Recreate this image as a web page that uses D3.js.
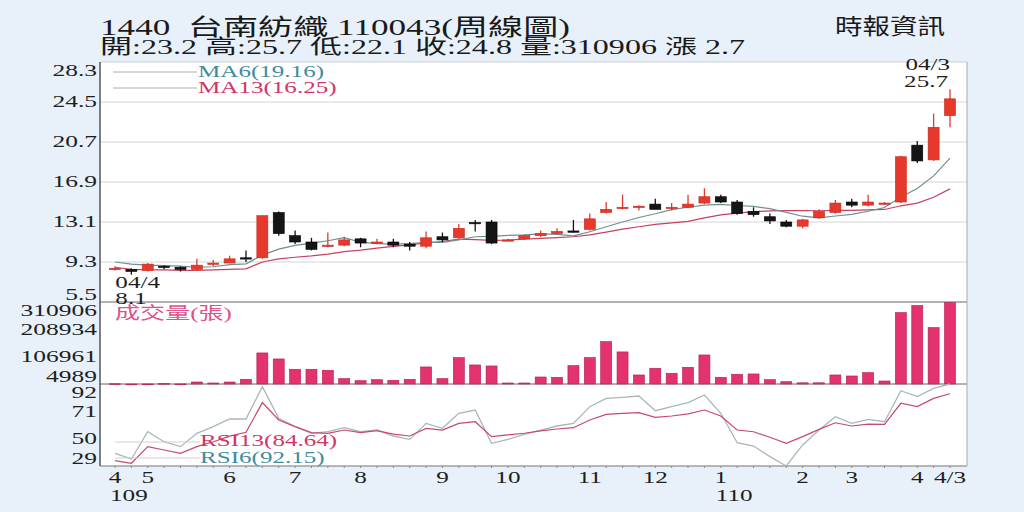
<!DOCTYPE html>
<html><head><meta charset="utf-8">
<script src="https://cdn.jsdelivr.net/npm/d3@7"></script>
<style>
body{margin:0;background:#e8f1f9;}
svg{display:block;}
text{font-family:"Liberation Serif","Noto Sans CJK TC",serif;}
</style>
</head><body>
<svg id="c" width="1024" height="512"></svg>
<script>
// ---- data ----
const openP  = [8.6,8.6,8.5,8.9,8.8,8.6,9.1,9.2,9.7,9.7,14.0,11.8,11.2,10.8,10.9,11.5,11.1,11.2,11.0,10.8,11.7,11.6,13.05,13.1,11.3,11.5,11.8,12.0,12.25,12.4,14.0,14.4,14.6,14.8,14.4,14.5,14.9,15.5,15.0,14.1,13.6,13.1,12.7,13.5,14.0,15.0,14.7,14.8,15.0,20.4,19.0,23.2];
const closeP = [8.7,8.4,9.1,8.8,8.6,9.0,9.2,9.6,9.6,13.7,12.0,11.2,10.5,10.9,11.4,11.1,11.2,10.9,10.8,11.6,11.4,12.5,13.0,11.1,11.4,11.8,12.0,12.2,12.2,13.4,14.3,14.5,14.6,14.3,14.5,14.8,15.5,15.0,13.9,13.8,13.2,12.7,13.3,14.1,14.9,14.7,15.0,14.9,19.3,18.9,22.1,24.8];
const highP  = [8.9,8.7,9.2,9.0,8.9,9.6,9.5,9.9,10.4,13.7,14.1,12.3,11.6,12.1,11.7,11.6,11.5,11.5,11.2,12.2,12.1,12.9,13.3,13.3,11.5,11.9,12.3,12.5,13.3,13.9,15.0,15.7,14.7,15.3,14.9,15.7,16.3,15.7,15.2,14.5,13.9,13.3,13.4,14.3,15.2,15.3,15.7,15.0,19.4,20.8,23.4,25.7];
const lowP   = [8.5,8.1,8.4,8.6,8.4,8.5,8.9,9.2,9.3,9.6,11.8,11.0,10.4,10.7,10.8,10.7,11.0,10.7,10.4,10.6,11.2,11.5,12.2,11.0,11.3,11.4,11.7,11.9,12.1,12.3,13.9,14.3,14.2,14.3,14.2,14.4,14.8,14.9,13.8,13.6,12.9,12.6,12.5,13.4,13.9,14.5,14.6,14.8,14.9,18.7,18.9,22.1];
const ma6    = [9.3,9.1,9.0,8.95,8.9,8.8,8.85,9.05,9.13,9.95,10.52,10.88,11.1,11.32,11.62,11.18,11.05,11.0,11.05,11.17,11.17,11.4,11.7,11.73,11.83,11.87,11.97,11.92,11.78,12.17,12.65,13.1,13.53,13.88,14.27,14.5,14.7,14.78,14.67,14.58,14.37,14.02,13.65,13.5,13.67,13.82,14.12,14.48,15.48,16.28,17.48,19.16];
const ma13   = [8.8,8.6,8.55,8.55,8.5,8.5,8.55,8.6,8.65,9.3,9.6,9.75,9.88,10.05,10.28,10.43,10.62,10.79,10.93,11.12,11.25,11.48,11.42,11.35,11.37,11.47,11.55,11.62,11.7,11.87,12.13,12.42,12.65,12.87,13.02,13.16,13.5,13.78,13.94,14.08,14.15,14.19,14.18,14.17,14.2,14.21,14.26,14.29,14.64,14.9,15.45,16.25];
const volume = [6000,4989,5200,7000,5300,12500,8800,12500,22700,121600,99000,60300,60300,56500,25000,17400,21200,18900,22700,69000,25000,104000,76500,72700,8800,8800,31300,30000,73800,104000,164000,125400,38900,64000,45200,67800,114000,30200,41500,42700,21200,13600,9500,9500,38900,35100,47500,16300,273000,299600,216800,310906];
const rsi6   = [38.8,34.4,55.4,47.7,43.9,54.2,59.3,65.2,65.2,90.1,65.7,59.3,54.2,55.4,58.5,55.4,56.7,52.1,49.5,61.8,58.0,69.6,72.1,46.5,49.5,53.4,56.7,59.8,61.8,74.7,81.1,81.9,82.9,71.6,74.7,77.8,83.7,69.6,46.9,44.4,36.2,29.0,45.2,56.7,67.0,61.8,64.9,63.1,87.0,82.4,88.8,92.15];
const rsi13  = [33.1,31.1,43.9,41.3,38.8,43.9,47.7,52,55,77.8,64.4,59.3,54.7,54.2,56.7,54.7,56.2,53.6,52.1,58.0,56.7,61.8,63.1,51.6,52.9,54.2,56.0,57.5,58.5,64.4,68.8,69.6,70.1,66.5,67.5,69.1,72.1,67.5,56.7,55.4,51.1,46.5,51.6,57.2,62.3,59.8,61.3,61.0,77.3,74.7,81.1,84.64];
const priceTicks = [5.5,9.3,13.1,16.9,20.7,24.5,28.3];
const volTicks   = [4989,106961,208934,310906];
const rsiTicks   = [29,50,71,92];
const monthTickIdx = [0,2,7,11,15,20,24,29,33,37,42,45,49,51];
const monthTickLbl = ["4","5","6","7","8","9","10","11","12","1","2","3","4","4/3"];
const yearIdx = [0,37];
const yearLbl = ["109","110"];
const titleText = "1440\u00a0\u00a0台南紡織 110043(周線圖)";
const infoText = "開:23.2 高:25.7 低:22.1 收:24.8 量:310906 漲 2.7";
const sourceText = "時報資訊";

// ---- layout ----
const L = 100, R = 967;
const pTop = 62, pBot = 302, vTop = 302, vBot = 384, rTop = 384, rBot = 466;
const SX = 1.5;
const svg = d3.select("#c");
const n = closeP.length;
const x = d3.scaleLinear().domain([0, n-1]).range([115, 950]);
const yP = d3.scaleLinear().domain([5.5, 28.3]).range([pBot, pTop]);
const yV = d3.scaleLinear().domain([4989, 310906]).range([vBot, vTop + 0.5]);
const yR = d3.scaleLinear().domain([29, 92.15]).range([rBot, rTop]);
const idx = d3.range(n);

function txt(parent, px, py, s, o) {
  o = o || {};
  return parent.append("text")
    .attr("transform", `translate(${px},${py}) scale(${o.sx || SX},1)`)
    .attr("text-anchor", o.anchor || "start")
    .attr("dominant-baseline", "central")
    .attr("font-size", o.size || 17)
    .attr("fill", o.fill || "#1e1e1e")
    .text(s);
}

// plot background
svg.append("rect").attr("x", L).attr("y", pTop).attr("width", R-L).attr("height", rBot-pTop).attr("fill", "#fff");

// grid & frame
svg.append("g").selectAll("line").data(priceTicks.slice(1,-1)).join("line")
  .attr("x1", L).attr("x2", R).attr("y1", d=>yP(d)).attr("y2", d=>yP(d))
  .attr("stroke", "#d6d6d6").attr("stroke-width", 1.2);
svg.append("line").attr("x1", L).attr("x2", R).attr("y1", pTop).attr("y2", pTop).attr("stroke", "#cfcfcf");
svg.append("line").attr("x1", L).attr("x2", R).attr("y1", pBot).attr("y2", pBot).attr("stroke", "#666").attr("stroke-width", 1.2);
svg.append("line").attr("x1", L).attr("x2", R).attr("y1", vBot).attr("y2", vBot).attr("stroke", "#666").attr("stroke-width", 1.2);
svg.append("line").attr("x1", L).attr("x2", R).attr("y1", rBot).attr("y2", rBot).attr("stroke", "#777").attr("stroke-width", 1.2);
svg.append("line").attr("x1", R).attr("x2", R).attr("y1", pTop).attr("y2", rBot).attr("stroke", "#aaa");
svg.append("line").attr("x1", L).attr("x2", L).attr("y1", pTop).attr("y2", rBot).attr("stroke", "#555").attr("stroke-width", 1.5);

// axis labels
function axisLabels(ticks, scale, top, bot, fmt) {
  const g = svg.append("g");
  ticks.forEach(d => txt(g, L-3, Math.max(top+9, Math.min(bot-7.5, scale(d))), fmt(d), {anchor:"end", size:17}));
}
axisLabels(priceTicks, yP, pTop, pBot, d => d.toFixed(1));
axisLabels(volTicks, yV, vTop, vBot, d => String(d));
axisLabels(rsiTicks, yR, rTop, rBot, d => String(d));

// MA lines
const line = (arr, sc) => d3.line().x((d,i)=>x(i)).y(d=>sc(d))(arr);
svg.append("path").attr("d", line(ma13, yP)).attr("fill","none").attr("stroke","#c8405e").attr("stroke-width",1.2);
svg.append("path").attr("d", line(ma6, yP)).attr("fill","none").attr("stroke","#6f8f94").attr("stroke-width",1.2);

// candles
const bw = 11;
const cg = svg.append("g").selectAll("g").data(idx).join("g");
const col = i => closeP[i] >= openP[i] ? "#e6392c" : "#151515";
cg.append("line").attr("x1", i=>x(i)).attr("x2", i=>x(i))
  .attr("y1", i=>yP(highP[i])).attr("y2", i=>yP(lowP[i]))
  .attr("stroke", col).attr("stroke-width", 1.3);
cg.append("rect").attr("x", i=>x(i)-bw/2).attr("width", bw)
  .attr("y", i=>yP(Math.max(openP[i], closeP[i])))
  .attr("height", i=>Math.max(1.3, Math.abs(yP(openP[i]) - yP(closeP[i]))))
  .attr("fill", col).attr("stroke", i => closeP[i] >= openP[i] ? "#c8281e" : "#000").attr("stroke-width", 0.6);

// MA legend
svg.append("line").attr("x1",113).attr("x2",197).attr("y1",72).attr("y2",72).attr("stroke","#b0b0b0");
svg.append("line").attr("x1",113).attr("x2",197).attr("y1",88).attr("y2",88).attr("stroke","#b0b0b0");
txt(svg, 198, 72, "MA6(" + ma6[n-1].toFixed(2) + ")", {size:16.5, sx:1.52, fill:"#3f8d9c"});
txt(svg, 198, 88, "MA13(" + ma13[n-1].toFixed(2) + ")", {size:16.5, sx:1.52, fill:"#d33467"});

// hi/lo annotations
const lowIdx = d3.minIndex(lowP), highIdx = d3.maxIndex(highP);
txt(svg, x(lowIdx)-16, 283, "04/4", {size:16.5, sx:1.52});
txt(svg, x(lowIdx)-16, 299, lowP[lowIdx].toFixed(1), {size:16.5, sx:1.52});
txt(svg, x(highIdx), 65, "04/3", {size:16.5, sx:1.52, anchor:"end"});
txt(svg, x(highIdx)-2, 82, highP[highIdx].toFixed(1), {size:16.5, sx:1.52, anchor:"end"});

// volume bars
svg.append("g").selectAll("rect").data(idx).join("rect")
  .attr("x", i=>x(i)-5.5).attr("width", 11)
  .attr("y", i=>yV(volume[i])).attr("height", i=>Math.max(0.8, vBot - yV(volume[i])))
  .attr("fill", "#e3326f").attr("stroke", "#b21f50").attr("stroke-width", 0.6);
txt(svg, 115, 314, "成交量(張)", {size:16.5, sx:1.52, fill:"#e0508a"});

// RSI
svg.append("path").attr("d", line(rsi6, yR)).attr("fill","none").attr("stroke","#a9b7b7").attr("stroke-width",1.3);
svg.append("path").attr("d", line(rsi13, yR)).attr("fill","none").attr("stroke","#c74a68").attr("stroke-width",1.2);
svg.append("line").attr("x1",115).attr("x2",200).attr("y1",442).attr("y2",442).attr("stroke","#d0d0d0");
svg.append("line").attr("x1",115).attr("x2",200).attr("y1",458).attr("y2",458).attr("stroke","#d0d0d0");
txt(svg, 200, 441, "RSI13(" + rsi13[n-1].toFixed(2) + ")", {size:16.5, sx:1.52, fill:"#d33467"});
txt(svg, 200, 458, "RSI6(" + rsi6[n-1].toFixed(2) + ")", {size:16.5, sx:1.52, fill:"#3f8d9c"});

// x axis
svg.append("g").selectAll("line").data(idx).join("line")
  .attr("x1", i=>x(i)).attr("x2", i=>x(i)).attr("y1", rBot).attr("y2", rBot+2)
  .attr("stroke", "#888").attr("stroke-width", 1);
const xg = svg.append("g");
monthTickIdx.forEach((d,i) => txt(xg, x(d), 477.5, monthTickLbl[i], {size:17, sx:1.48, anchor:"middle"}));
yearIdx.forEach((d,i) => txt(xg, x(d)-5, 495, yearLbl[i], {size:17, sx:1.48}));

// header
svg.append("text").attr("x",100).attr("y",27).attr("dominant-baseline","central").attr("font-size",23)
  .attr("fill","#1a1a1a").attr("textLength",470).attr("lengthAdjust","spacingAndGlyphs").text(titleText);
svg.append("text").attr("x",100).attr("y",47).attr("dominant-baseline","central").attr("font-size",20)
  .attr("fill","#1a1a1a").attr("textLength",645).attr("lengthAdjust","spacingAndGlyphs").text(infoText);
svg.append("text").attr("x",835).attr("y",26).attr("dominant-baseline","central").attr("font-size",22)
  .attr("fill","#1a1a1a").attr("textLength",110).attr("lengthAdjust","spacingAndGlyphs").text(sourceText);
</script>
</body></html>
